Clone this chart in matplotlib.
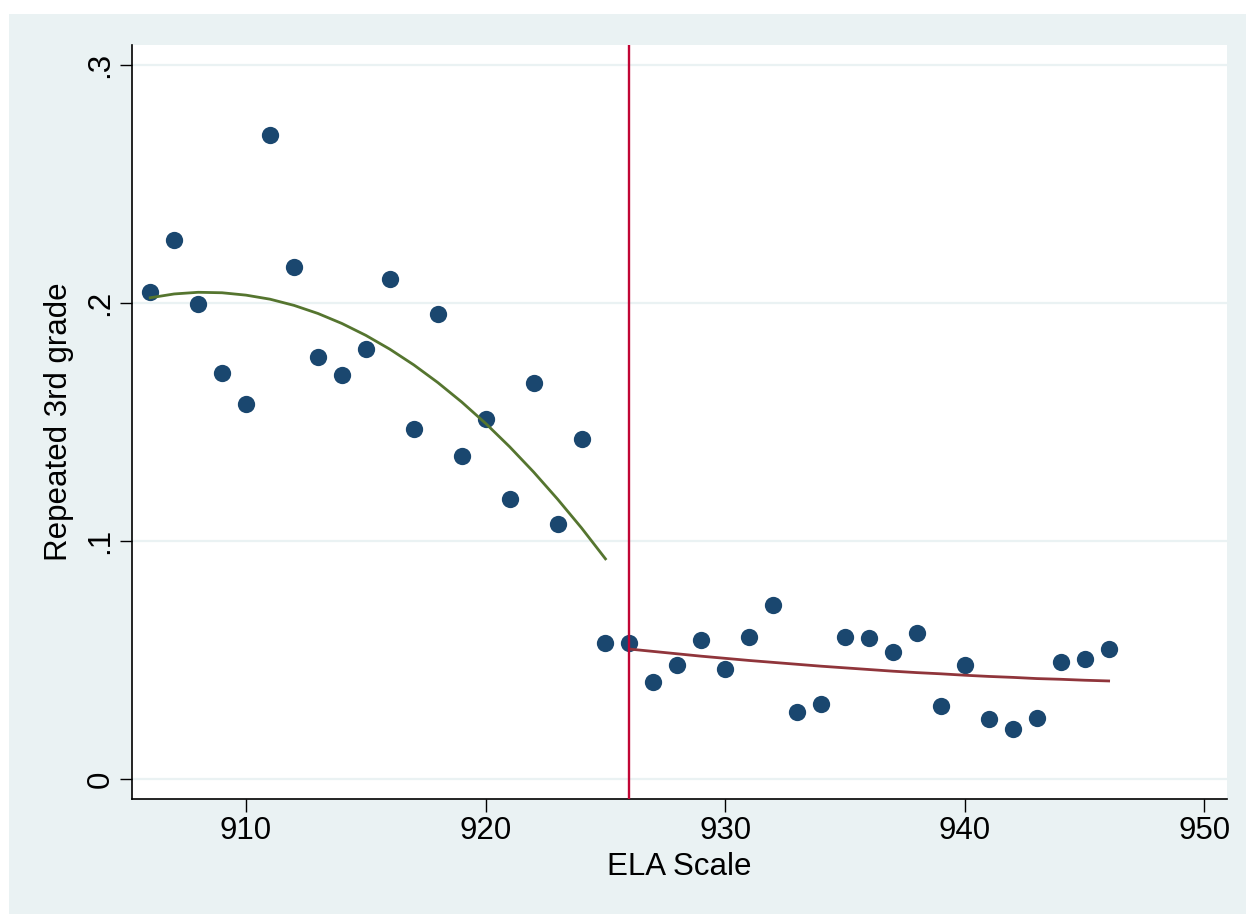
import numpy as np
import matplotlib
matplotlib.use("Agg")
import matplotlib.pyplot as plt
from matplotlib.patches import Rectangle

# Bin means: ELA scale score vs share repeating 3rd grade
ela_score = np.arange(906, 947)
repeated = [
    0.2045, 0.2265, 0.1997, 0.1705, 0.1577, 0.2705, 0.2150, 0.1773, 0.1697, 0.1807,
    0.2102, 0.1471, 0.1954, 0.1357, 0.1513, 0.1175, 0.1664, 0.1073, 0.1427, 0.0573,
    0.0570, 0.0409, 0.0479, 0.0583, 0.0464, 0.0598, 0.0730, 0.0280, 0.0314, 0.0597,
    0.0591, 0.0535, 0.0613, 0.0308, 0.0477, 0.0254, 0.0212, 0.0258, 0.0490, 0.0503,
    0.0546,
]

# Fitted curves, below and above the cutoff
fit_left_x = np.arange(906, 926)
fit_left_y = [
    0.2022, 0.2038, 0.2045, 0.2043, 0.2033, 0.2016, 0.1990, 0.1956, 0.1914, 0.1864,
    0.1806, 0.1740, 0.1666, 0.1584, 0.1494, 0.1396, 0.1290, 0.1176, 0.1055, 0.0925,
]
fit_right_x = np.arange(926, 947)
fit_right_y = [
    0.0546, 0.0536, 0.0526, 0.0516, 0.0507, 0.0498, 0.0490, 0.0482, 0.0474, 0.0467,
    0.0460, 0.0453, 0.0447, 0.0442, 0.0436, 0.0431, 0.0427, 0.0422, 0.0419, 0.0415,
    0.0412,
]
cutoff = 926

x_ticks = [910, 920, 930, 940, 950]
y_ticks = [0, 0.1, 0.2, 0.3]
y_tick_labels = ["0", ".1", ".2", ".3"]


def main() -> None:
    plt.rcParams['font.family'] = ['Liberation Sans', 'DejaVu Sans']
    fig = plt.figure(figsize=(12.46, 9.14), dpi=100, facecolor="white")
    # Stata style graph region (drawn behind the axes)
    fig.add_artist(Rectangle((9 / 1246, 0), 1, 1 - 14 / 914,
                             transform=fig.transFigure,
                             facecolor="#EAF2F3", edgecolor="none", zorder=-10))

    ax = fig.add_axes([132 / 1246, 1 - 799 / 914, 1095 / 1246, 754 / 914])
    ax.set_facecolor("white")

    ax.scatter(ela_score, repeated, s=155, color="#1A476F", zorder=3, linewidths=0)
    ax.plot(fit_left_x, fit_left_y, color="#55752F", lw=2.0, zorder=4)
    ax.plot(fit_right_x, fit_right_y, color="#90353B", lw=2.0, zorder=4)
    ax.axvline(cutoff, color="#C10534", lw=1.7, zorder=5)

    ax.set_xlim(905.24, 950.94)
    ax.set_ylim(-0.0084, 0.3084)
    ax.set_xticks(x_ticks)
    ax.set_yticks(y_ticks)
    ax.set_yticklabels(y_tick_labels, rotation=90, va="center")
    ax.grid(axis="y", color="#EAF2F3", lw=1.6, zorder=1)
    ax.set_axisbelow(True)

    for side in ("top", "right"):
        ax.spines[side].set_visible(False)
    for side in ("left", "bottom"):
        ax.spines[side].set_linewidth(1.2)
    ax.tick_params(axis="both", length=9, width=1.0, labelsize=22.5)
    ax.tick_params(axis="x", pad=3.5)
    ax.tick_params(axis="y", pad=3)

    ax.set_xlabel("ELA Scale", fontsize=22.5, labelpad=4)
    ax.set_ylabel("Repeated 3rd grade", fontsize=22.5, labelpad=8)

    fig.savefig("out.png", dpi=100)


if __name__ == '__main__':
    main()
